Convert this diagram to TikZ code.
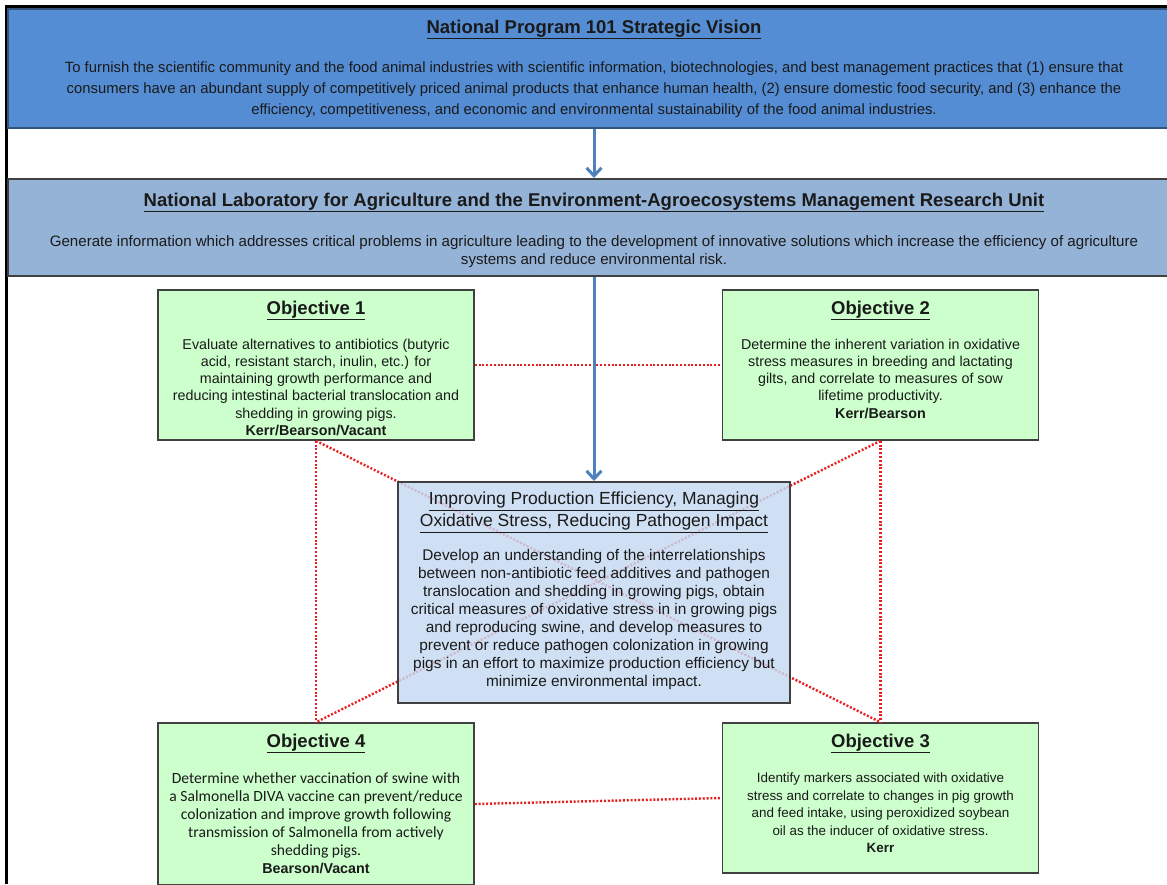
\documentclass[tikz,border=0pt]{standalone}
\usepackage{fontspec}
\setmainfont{Liberation Sans}
\newfontfamily\calibrifont{Carlito}
\usepackage{tikz}
\usetikzlibrary{positioning}
\usetikzlibrary{arrows.meta}

\definecolor{visionblue}{RGB}{84,141,212}
\definecolor{visionedge}{RGB}{52,84,128}
\definecolor{unitblue}{RGB}{149,179,215}
\definecolor{objgreen}{RGB}{204,255,204}
\definecolor{focusblue}{RGB}{198,217,241}
\definecolor{boxedge}{RGB}{64,64,64}
\definecolor{arrowblue}{RGB}{79,129,189}
\definecolor{linkred}{RGB}{232,32,32}
\definecolor{inkgray}{RGB}{26,26,26}

\begin{document}
\begin{tikzpicture}[x=1pt, y=-1pt, >={Straight Barb[length=8pt,width=15pt]},
    every node/.style={text=inkgray, align=center, inner sep=0pt},
    bigbox/.style={draw=boxedge, line width=2pt, minimum width=1172pt},
    objbox/.style={draw=boxedge, line width=1.6pt, fill=objgreen, minimum width=316pt, minimum height=150pt},
    boxtitle/.style={font=\fontsize{18.5}{22}\selectfont\bfseries},
    objtext/.style={font=\fontsize{14.3}{17.3}\selectfont},
    link/.style={draw=linkred, dash pattern=on 2pt off 1.8pt, line width=2.4pt},
    flow/.style={draw=arrowblue, line width=3pt, ->}]
    \useasboundingbox (0,0) rectangle (1167,884);
    \clip (0,0) rectangle (1167,884);
    % outer frame
    \draw[line width=3pt] (6,884) -- (6,6.5) -- (1167,6.5);

    % strategic vision
    \node[bigbox, fill=visionblue, draw=visionedge, minimum height=119pt] (vision) at (594,68.5) {};
    \node[boxtitle, below=11.5pt of vision.north] (visiontitle) {\underline{National Program 101 Strategic Vision}};
    \node[font=\fontsize{14.85}{21}\selectfont, below=54pt of vision.north] (visiontext) {To furnish the scientific community and the food animal industries with scientific information, biotechnologies, and best management practices that (1) ensure that\\ consumers have an abundant supply of competitively priced animal products that enhance human health, (2) ensure domestic food security, and (3) enhance the\\ efficiency, competitiveness, and economic and environmental sustainability of the food animal industries.};

    % research unit
    \node[bigbox, fill=unitblue, minimum height=97pt] (unit) at (594,227.5) {};
    \node[font=\fontsize{18.5}{21}\selectfont\bfseries, below=14.5pt of unit.north] (unittitle) {\underline{National Laboratory for Agriculture and the Environment-Agroecosystems Management Research Unit}};
    \node[font=\fontsize{15.1}{18}\selectfont, below=57pt of unit.north] (unittext) {Generate information which addresses critical problems in agriculture leading to the development of innovative solutions which increase the efficiency of agriculture\\ systems and reduce environmental risk.};

    % objectives
    \node[objbox] (obj1) at (316,365) {};
    \node[boxtitle, below=11.5pt of obj1.north] (obj1title) {\underline{Objective 1}};
    \node[objtext, below=49.3pt of obj1.north] (obj1text) {Evaluate alternatives to antibiotics (butyric\\ acid, resistant starch, inulin, etc.) for\\ maintaining growth performance and\\ reducing intestinal bacterial translocation and\\ shedding in growing pigs.\\ \textbf{Kerr/Bearson/Vacant}};

    \node[objbox] (obj2) at (880.5,365) {};
    \node[boxtitle, below=11.5pt of obj2.north] (obj2title) {\underline{Objective 2}};
    \node[objtext, below=49.3pt of obj2.north] (obj2text) {Determine the inherent variation in oxidative\\ stress measures in breeding and lactating\\ gilts, and correlate to measures of sow\\ lifetime productivity.\\ \textbf{Kerr/Bearson}};

    \node[objbox] (obj3) at (880.5,798) {};
    \node[boxtitle, below=11.5pt of obj3.north] (obj3title) {\underline{Objective 3}};
    \node[font=\fontsize{13.4}{17.5}\selectfont, below=50.5pt of obj3.north] (obj3text) {Identify markers associated with oxidative\\ stress and correlate to changes in pig growth\\ and feed intake, using peroxidized soybean\\ oil as the inducer of oxidative stress.\\ \textbf{Kerr}};

    \node[objbox, minimum height=162pt] (obj4) at (316,804) {};
    \node[boxtitle, below=11.5pt of obj4.north] (obj4title) {\underline{Objective 4}};
    \node[font=\calibrifont\fontsize{15.6}{18}\selectfont, below=50.5pt of obj4.north] (obj4text) {Determine whether vaccination of swine with\\ a Salmonella DIVA vaccine can prevent/reduce\\ colonization and improve growth following\\ transmission of Salmonella from actively\\ shedding pigs.\\ {\rmfamily\bfseries\fontsize{14.3}{19}\selectfont Bearson/Vacant}};

    % links between objectives
    \foreach \a/\b in {obj1.east/obj2.west, obj4.east/obj3.west, obj1.south/obj4.north, obj2.south/obj3.north, obj1.south/obj3.north, obj2.south/obj4.north}
        \draw[link] (\a) -- (\b);

    % central focus
    \node[draw=boxedge, line width=2pt, fill=focusblue, fill opacity=0.82, minimum width=392pt, minimum height=221pt] (focus) at (594,592.5) {};
    \node[font=\fontsize{17.5}{22}\selectfont, below=11pt of focus.north] (focustitle) {\underline{Improving Production Efficiency, Managing}\\ \underline{Oxidative Stress, Reducing Pathogen Impact}};
    \node[font=\fontsize{15.4}{18}\selectfont, below=68.5pt of focus.north] (focustext) {Develop an understanding of the interrelationships\\ between non-antibiotic feed additives and pathogen\\ translocation and shedding in growing pigs, obtain\\ critical measures of oxidative stress in in growing pigs\\ and reproducing swine, and develop measures to\\ prevent or reduce pathogen colonization in growing\\ pigs in an effort to maximize production efficiency but\\ minimize environmental impact.};

    \draw[flow] (vision.south) -- (unit.north);
    \draw[flow] (unit.south) -- (focus.north);
\end{tikzpicture}
\end{document}
